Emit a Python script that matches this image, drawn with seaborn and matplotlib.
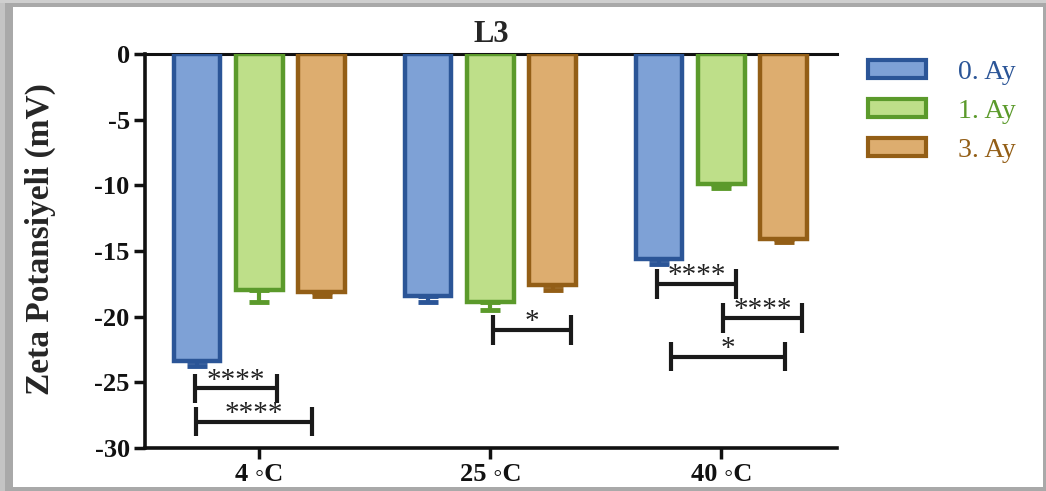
import numpy as np
import pandas as pd
import matplotlib
matplotlib.use("Agg")
import matplotlib.pyplot as plt
import seaborn as sns
from matplotlib.patches import Patch, Rectangle

# ---------------- data ----------------
temps = ["4 \u25e6C", "25 \u25e6C", "40 \u25e6C"]
series = ["0. Ay", "1. Ay", "3. Ay"]
month0 = [-23.4, -18.4, -15.6]
month1 = [-18.0, -18.9, -9.9]
month3 = [-18.1, -17.6, -14.1]
err0 = [0.35, 0.5, 0.4]
err1 = [0.85, 0.6, 0.3]
err3 = [0.35, 0.4, 0.2]

# significance brackets: (label, x start, x end, y level)
sig_labels = ["****", "****", "*", "****", "****", "*"]
sig_start = [-0.277, -0.273, 1.009, 1.723, 2.007, 1.782]
sig_end = [0.075, 0.228, 1.349, 2.065, 2.347, 2.277]
sig_level = [-25.45, -28.0, -21.0, -17.5, -20.1, -23.05]

fills = ["#7ea1d6", "#bedf89", "#ddad6f"]
edges = ["#2b5597", "#5b9a2b", "#935e16"]

# ---------------- style ----------------
sns.set_theme(style="ticks")
plt.rcParams["font.family"] = ["Liberation Serif", "DejaVu Serif", "DejaVu Sans"]
plt.rcParams["axes.unicode_minus"] = False

W, H = 1046, 491
fig = plt.figure(figsize=(W / 100, H / 100), dpi=100)
fig.patch.set_facecolor("#a9a9a9")
fig.patches.append(Rectangle((0, 0), 5 / W, 1, transform=fig.transFigure,
                             facecolor="#c4c4c4", edgecolor="none", zorder=-3))
fig.patches.append(Rectangle((0, 1 - 3 / H), 1, 3 / H, transform=fig.transFigure,
                             facecolor="#cfcfcf", edgecolor="none", zorder=-3))
fig.patches.append(Rectangle((13 / W, 1 - 487 / H), (1043 - 13) / W, (487 - 7) / H,
                             transform=fig.transFigure, facecolor="white",
                             edgecolor="none", zorder=-2))

ax = fig.add_axes([145 / W, 1 - 448 / H, (837 - 145) / W, (448 - 54) / H])
ax.set_facecolor("none")

df = pd.DataFrame({
    "temp": temps * 3,
    "series": [series[0]] * 3 + [series[1]] * 3 + [series[2]] * 3,
    "value": month0 + month1 + month3,
})

sns.barplot(data=df, x="temp", y="value", hue="series", order=temps,
            hue_order=series, palette=fills, saturation=1, width=0.81,
            gap=0.25, errorbar=None, linewidth=3, legend=False, ax=ax)

errs = [err0, err1, err3]
for cont, ec, er in zip(ax.containers, edges, errs):
    xs, ys = [], []
    for p in cont:
        p.set_edgecolor(ec)
        p.set_linewidth(3.2)
        p.set_zorder(3)
        xs.append(p.get_x() + p.get_width() / 2)
        ys.append(p.get_height())
    ax.errorbar(xs, ys, yerr=[er, [0] * len(er)], fmt="none", ecolor=ec,
                elinewidth=3, capsize=7, capthick=3.5, zorder=2.5)

for lab, x0, x1, y in zip(sig_labels, sig_start, sig_end, sig_level):
    ax.plot([x0, x1], [y, y], color="#1a1a1a", lw=3, solid_capstyle="butt", zorder=4)
    for xx in (x0, x1):
        ax.plot([xx, xx], [y - 1.12, y + 1.12], color="#1a1a1a", lw=3,
                solid_capstyle="butt", zorder=4)
    ax.text((x0 + x1) / 2, y + 0.05, lab, ha="center", va="baseline",
            fontsize=21, color="#222222", zorder=5)

ax.set_ylim(-30, 0)
ax.set_xlim(-0.495, 2.5)
ax.set_yticks(range(-30, 1, 5))
ax.set_xlabel("")
ax.set_ylabel("Zeta Potansiyeli (mV)", fontsize=24, fontweight="bold")
ax.yaxis.set_label_coords(-0.128, 0.53)
ax.set_title("L3", fontsize=22, fontweight="bold", pad=9)

for s in ["left", "bottom"]:
    ax.spines[s].set_linewidth(2.6)
    ax.spines[s].set_color("#111111")
ax.spines["top"].set_linewidth(2.2)
ax.spines["top"].set_color("#111111")
ax.spines["right"].set_visible(False)
ax.tick_params(axis="both", length=8, width=2.5, color="#111111",
               labelsize=19, pad=3, labelcolor="#111111")
for t in ax.get_xticklabels() + ax.get_yticklabels():
    t.set_fontweight("bold")
for t in ax.get_xticklabels():
    t.set_fontsize(19)

handles = [Patch(facecolor=f, edgecolor=e, linewidth=3) for f, e in zip(fills, edges)]
fig.legend(handles, series, loc="upper left", bbox_to_anchor=(868 / W, 1 - 60 / H),
           frameon=False, fontsize=20, handlelength=2.1, handleheight=0.6,
           handletextpad=1.15, labelspacing=0.5, borderpad=0, borderaxespad=0,
           labelcolor=edges)

fig.savefig("out.png", dpi=100, facecolor=fig.get_facecolor())
